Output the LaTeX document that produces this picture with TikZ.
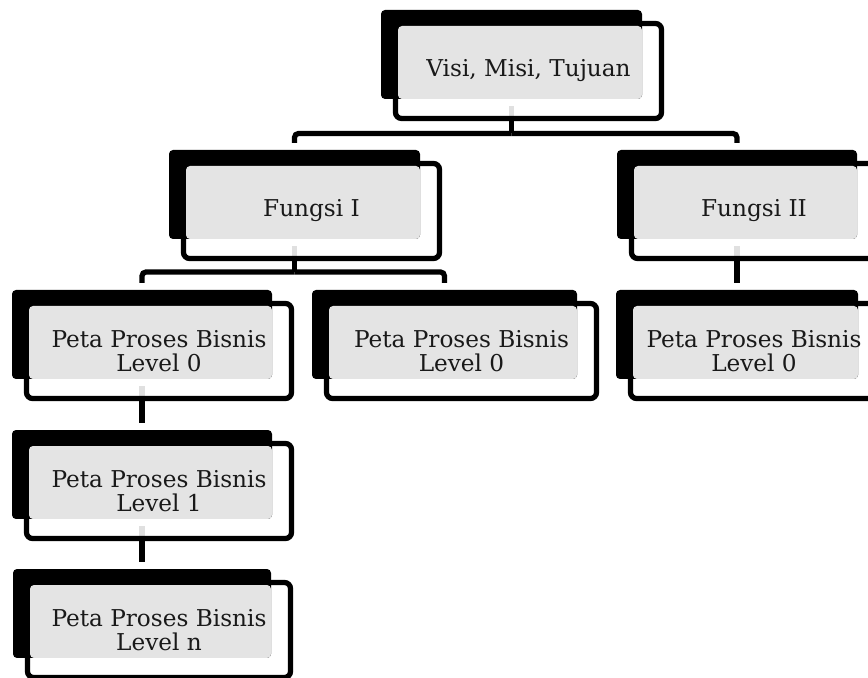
\documentclass[tikz,border=0pt]{standalone}
\usepackage{fontspec}
\setmainfont{DejaVu Serif}
\usetikzlibrary{calc, backgrounds, positioning}
\definecolor{facegray}{HTML}{E4E4E4}
\pgfdeclarelayer{frame}
\pgfsetlayers{background,frame,main}
\tikzset{
    shadowbox/.style={fill=black, rounded corners=0.08cm, minimum height=1.78cm,
        inner sep=0pt, outer sep=0pt, anchor=north west},
    framebox/.style={draw=black, line width=0.105cm, fill=white, fill opacity=0.88,
        rounded corners=0.12cm},
    facebox/.style={fill=facegray, rounded corners=0.08cm},
    boxlabel/.style={align=center, inner sep=0pt, text=black!90,
        font=\fontsize{13.2pt}{13.8pt}\selectfont},
    link/.style={draw=black, line width=0.105cm, rounded corners=0.08cm}
}
% one box of the map: name, x, y of the black back, width, text
\newcommand{\mapbox}[5]{%
    \node[shadowbox, minimum width=#4*0.02cm] (#1) at (#2,#3) {};
    \begin{pgfonlayer}{frame}
    \draw[framebox] ($(#1.north west)+(14.5,13.5)$) rectangle ($(#1.south east)+(19.5,19.5)$);
    \end{pgfonlayer}
    \fill[facebox] ($(#1.north west)+(17,16)$) rectangle (#1.south east);
    \node[boxlabel] (#1-t) at ($(#1.center)+(17,16.5)$) {#5};
}
\begin{document}
\begin{tikzpicture}[x=0.02cm, y=-0.02cm]
    \useasboundingbox (0,0) rectangle (868,678);
    \mapbox{V}{381}{10}{261}{Visi, Misi, Tujuan}
    \mapbox{F1}{169}{150}{251}{Fungsi I}
    \mapbox{F2}{617}{150}{240}{Fungsi II}
    \mapbox{P1}{12}{290}{260}{Peta Proses Bisnis\\Level 0}
    \mapbox{P2}{312}{290}{265}{Peta Proses Bisnis\\Level 0}
    \mapbox{P3}{616}{290}{242}{Peta Proses Bisnis\\Level 0}
    \mapbox{L1}{12}{430}{260}{Peta Proses Bisnis\\Level 1}
    \mapbox{Ln}{13}{569}{258}{Peta Proses Bisnis\\Level n}
    \begin{pgfonlayer}{background}
    \draw[link] ($(V.south)+(0,7)$) -- ($(V.south)+(0,34.5)$) coordinate (j1);
    \draw[link] (j1) -| ($(F1.north)+(0,-7)$);
    \draw[link] (j1) -| ($(F2.north)+(0,-7)$);
    \draw[link] ($(F1.south)+(0,7)$) -- ($(F1.south)+(0,33)$) coordinate (j2);
    \draw[link] (j2) -| ($(P1.north)+(0,-7)$);
    \draw[link] (j2) -| ($(P2.north)+(0,-7)$);
    \draw[link] ($(F2.south)+(0,7)$) -- ($(P3.north)+(0,-7)$);
    \draw[link] ($(P1.south)+(0,7)$) -- ($(L1.north)+(0,-7)$);
    \draw[link] ($(L1.south)+(0,7)$) -- ($(Ln.north)+(0,-7)$);
    \end{pgfonlayer}
\end{tikzpicture}
\end{document}
